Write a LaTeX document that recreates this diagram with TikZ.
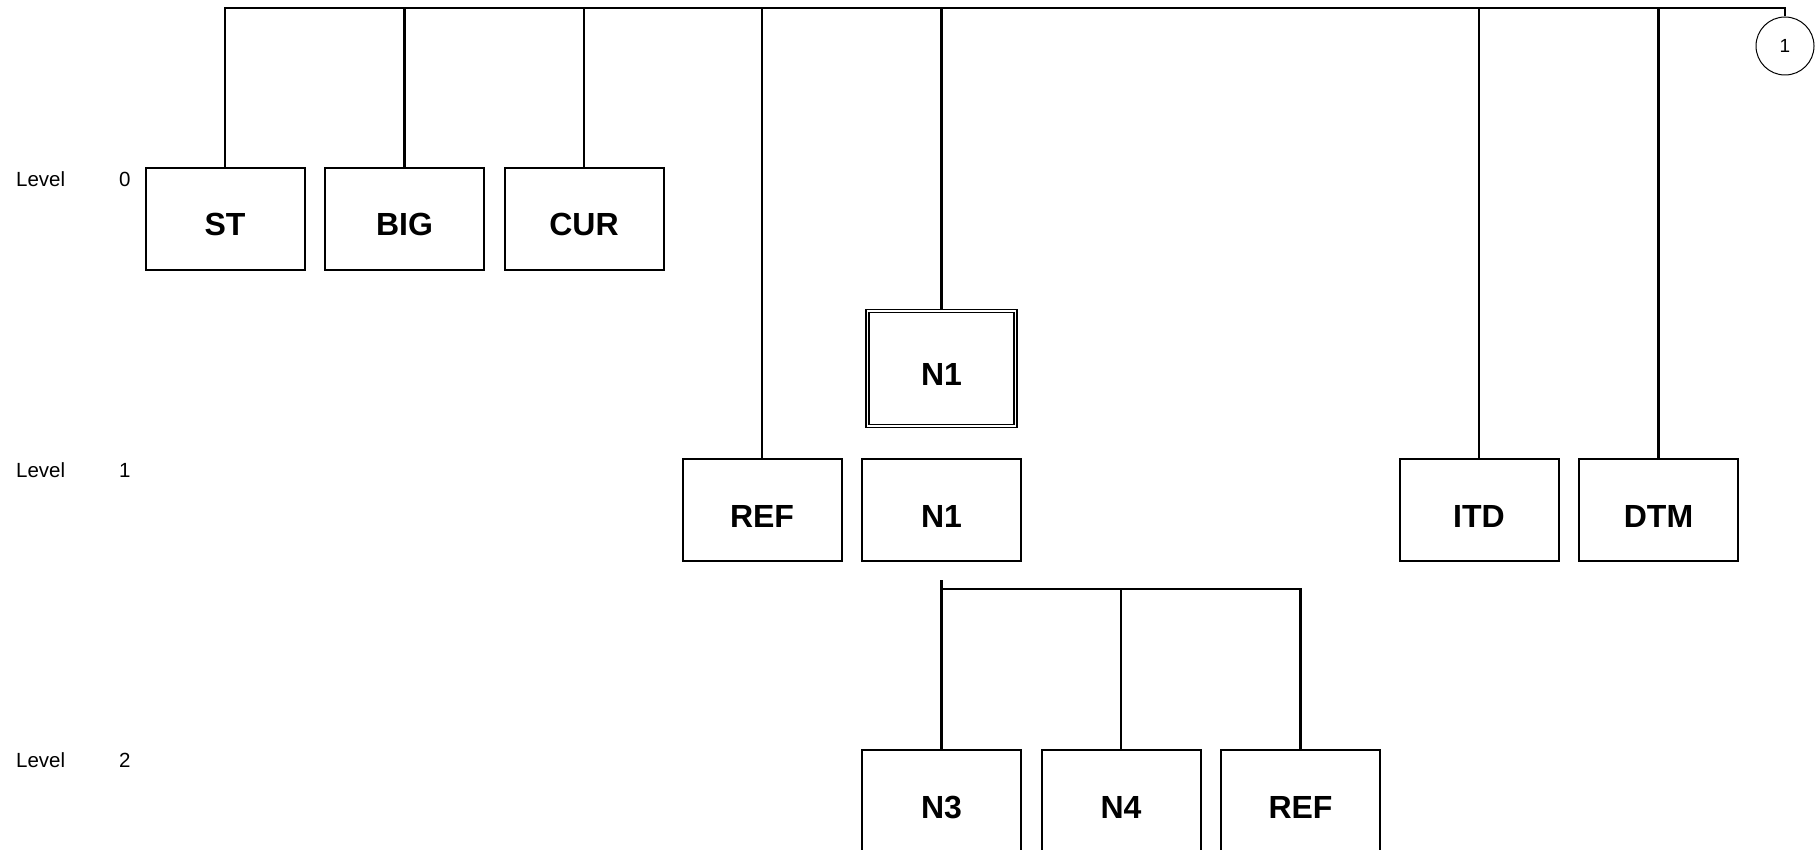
\documentclass[tikz,border=0pt]{standalone}
\usepackage{fontspec}
\setmainfont{Liberation Sans}
\usetikzlibrary{positioning}
\tikzstyle{block} = [rectangle, minimum width=159pt, minimum height=102pt, text height=34pt, text depth=0pt, text centered, draw=black, line width=2pt, font=\fontsize{32}{38}\selectfont\bfseries]
\tikzstyle{dblock} = [block, double, double distance=1.3pt, line width=1.6pt, minimum width=148pt, minimum height=115pt]
\tikzstyle{levelname} = [anchor=west, inner sep=0pt, font=\fontsize{20.5}{24}\selectfont]
\tikzstyle{page} = [circle, minimum size=58pt, inner sep=0pt, draw=black, line width=1pt, font=\fontsize{19}{23}\selectfont]
\tikzstyle{link} = [line width=2.5pt]

\begin{document}
\begin{tikzpicture}[x=1pt, y=-1pt, node distance=179.5pt]
\useasboundingbox (0,0) rectangle (1818,850);

\node (lv0) [levelname] at (16,179.5) {Level};
\node (lv0n) [levelname] at (119,179.5) {0};
\node (lv1) [levelname] at (16,470) {Level};
\node (lv1n) [levelname] at (119,470) {1};
\node (lv2) [levelname] at (16,760) {Level};
\node (lv2n) [levelname] at (119,760) {2};

\node (st) [block] at (225,219) {ST};
\node (big) [block, right of=st] {BIG};
\node (cur) [block, right of=big] {CUR};
\node (n1top) [dblock] at (941.5,368.5) {N1};
\node (ref1) [block] at (762,510) {REF};
\node (n1) [block, right of=ref1] {N1};
\node (itd) [block] at (1479,510) {ITD};
\node (dtm) [block, right of=itd] {DTM};
\node (n3) [block] at (941.5,801) {N3};
\node (n4) [block, right of=n3] {N4};
\node (ref2) [block, right of=n4] {REF};
\node (pg) [page] at (1785,46) {1};

\coordinate (top) at (0,8);
\coordinate (fork) at (941.5,580);
\coordinate (bar) at (941.5,589);

\draw [link] (st.north) |- (pg.north |- top) -- (pg.north);
\draw [link] (big.north) -- (big.north |- top);
\draw [link] (cur.north) -- (cur.north |- top);
\draw [link] (ref1.north) -- (ref1.north |- top);
\draw [link] (n1top.north) -- (n1top.north |- top);
\draw [link] (itd.north) -- (itd.north |- top);
\draw [link] (dtm.north) -- (dtm.north |- top);
\draw [link] (fork) -- (n3.north);
\draw [link] (bar) -| (ref2.north);
\draw [link] (n4.north) -- (n4.north |- bar);

\end{tikzpicture}
\end{document}
